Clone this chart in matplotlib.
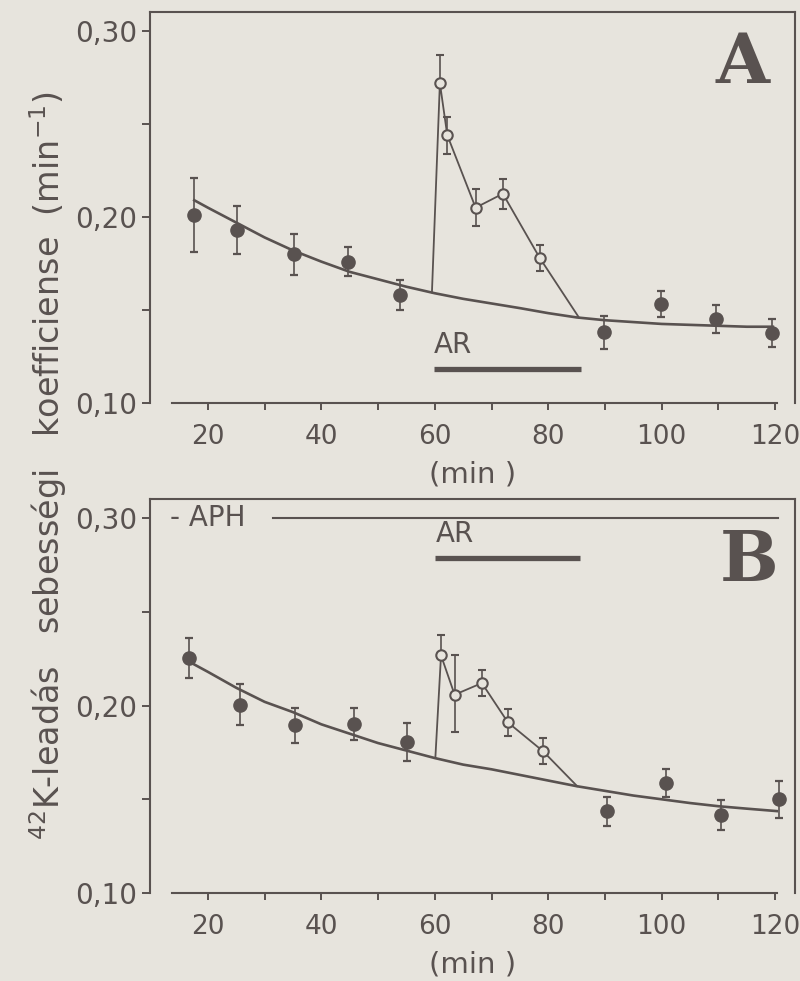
import numpy as np
import matplotlib.pyplot as plt

PAPER = '#e7e4dd'
INK = '#595250'

# --- panel A: control runs (filled) and AR runs (open) ---
t_ctrl_a = [17.6, 25.2, 35.2, 44.7, 53.8, 89.9, 99.9, 109.6, 119.4]
k_ctrl_a = [0.201, 0.193, 0.180, 0.176, 0.158, 0.138, 0.153, 0.145, 0.1375]
sem_ctrl_a = [0.020, 0.013, 0.011, 0.008, 0.008, 0.009, 0.007, 0.0075, 0.0075]

t_ar_a = [60.9, 62.2, 67.2, 72.0, 78.5]
k_ar_a = [0.272, 0.244, 0.205, 0.2125, 0.178]
sem_ar_hi_a = [0.015, 0.010, 0.010, 0.008, 0.007]
sem_ar_lo_a = [0.0, 0.010, 0.010, 0.008, 0.007]
ar_branch_a = [(59.5, 0.1595), (85.4, 0.146)]

fit_t_a = [17.6, 20, 25, 30, 35, 40, 45, 50, 55, 60, 65, 70, 75, 80, 85, 90, 95, 100, 105, 110, 115, 119.6]
fit_k_a = [0.209, 0.205, 0.197, 0.189, 0.182, 0.176, 0.1705, 0.1665, 0.1625, 0.159, 0.156, 0.1535,
           0.151, 0.1483, 0.146, 0.1445, 0.1435, 0.1425, 0.142, 0.1415, 0.141, 0.141]

# --- panel B ---
t_ctrl_b = [16.65, 25.6, 35.4, 45.8, 55.1, 90.3, 100.7, 110.5, 120.7]
k_ctrl_b = [0.2253, 0.2004, 0.1894, 0.1903, 0.1805, 0.1436, 0.1587, 0.1418, 0.150]
sem_ctrl_b = [0.0105, 0.011, 0.0095, 0.0085, 0.010, 0.0078, 0.0073, 0.008, 0.010]

t_ar_b = [61.1, 63.5, 68.3, 72.9, 79.1]
k_ar_b = [0.2268, 0.2058, 0.212, 0.191, 0.1756]
sem_ar_hi_b = [0.011, 0.021, 0.007, 0.007, 0.007]
sem_ar_lo_b = [0.0, 0.020, 0.007, 0.007, 0.007]
ar_branch_b = [(60.1, 0.172), (85.1, 0.157)]

fit_t_b = [16.65, 20, 25, 30, 35, 40, 45, 50, 55, 60, 65, 70, 75, 80, 85, 90, 95, 100, 105, 110, 115, 120.3]
fit_k_b = [0.2235, 0.218, 0.2095, 0.202, 0.1965, 0.190, 0.185, 0.180, 0.176, 0.172, 0.1685, 0.166,
           0.163, 0.160, 0.157, 0.1545, 0.152, 0.150, 0.148, 0.1463, 0.145, 0.1437]

# treatment bars (start, end, y)
ar_bar_a = (59.8, 85.8, 0.1182)
ar_bar_b = (60.1, 85.6, 0.2787)
aph_line = (31.5, 120.5, 0.30)

y_ticks = [0.10, 0.15, 0.20, 0.25, 0.30]
y_ticklabels = ['0,10', '', '0,20', '', '0,30']
x_ticks = list(range(20, 121, 10))
x_ticklabels = [str(v) if v % 20 == 0 else '' for v in x_ticks]

plt.rcParams['font.family'] = 'DejaVu Sans'
plt.rcParams['mathtext.fontset'] = 'dejavusans'


def draw_panel(ax, t_ctrl, k_ctrl, sem_ctrl, t_ar, k_ar, sem_lo, sem_hi, branch, fit_t, fit_k):
    ax.set_facecolor(PAPER)
    ax.set_xlim(9.8, 123.5)
    ax.set_ylim(0.10, 0.3102)

    # fitted decay of the control runs
    ax.plot(fit_t, fit_k, color=INK, lw=1.9, zorder=2)

    # AR branch: leaves the curve, runs through open points, rejoins
    bx = [branch[0][0]] + t_ar + [branch[1][0]]
    by = [branch[0][1]] + k_ar + [branch[1][1]]
    ax.plot(bx, by, color=INK, lw=1.3, zorder=2)

    ax.errorbar(t_ctrl, k_ctrl, yerr=sem_ctrl, fmt='o', ms=9.5, color=INK, mfc=INK, mec=INK,
                ecolor=INK, elinewidth=1.2, capsize=3, capthick=1.6, zorder=3)
    ax.errorbar(t_ar, k_ar, yerr=[sem_lo, sem_hi], fmt='o', ms=7.5, color=INK, mfc=PAPER, mec=INK,
                mew=1.5, ecolor=INK, elinewidth=1.2, capsize=3, capthick=1.6, zorder=3)

    for s in ax.spines.values():
        s.set_color(INK)
        s.set_linewidth(1.5)
    ax.spines['bottom'].set_bounds(13.7, 120.3)

    ax.set_yticks(y_ticks)
    ax.set_yticklabels(y_ticklabels)
    ax.set_xticks(x_ticks)
    ax.set_xticklabels(x_ticklabels)
    ax.tick_params(axis='y', direction='out', length=6, width=1.4, color=INK,
                   labelcolor=INK, labelsize=20, pad=3)
    ax.tick_params(axis='x', direction='out', length=5, width=1.4, color=INK,
                   labelcolor=INK, labelsize=19, pad=10)
    ax.set_xlabel('(min )', color=INK, fontsize=21, labelpad=8)


fig = plt.figure(figsize=(8, 9.81), dpi=100, facecolor=PAPER)
ax_a = fig.add_axes([0.1875, 0.5892, 0.80625, 0.3986])
ax_b = fig.add_axes([0.1875, 0.0897, 0.80625, 0.4016])

draw_panel(ax_a, t_ctrl_a, k_ctrl_a, sem_ctrl_a, t_ar_a, k_ar_a, sem_ar_lo_a, sem_ar_hi_a,
           ar_branch_a, fit_t_a, fit_k_a)
draw_panel(ax_b, t_ctrl_b, k_ctrl_b, sem_ctrl_b, t_ar_b, k_ar_b, sem_ar_lo_b, sem_ar_hi_b,
           ar_branch_b, fit_t_b, fit_k_b)

# AR application bars
for ax, (x0, x1, yb) in ((ax_a, ar_bar_a), (ax_b, ar_bar_b)):
    ax.plot([x0, x1], [yb, yb], color=INK, lw=3.8, solid_capstyle='butt', zorder=2)
    ax.text(x0, yb + 0.0055, 'AR', color=INK, fontsize=20, ha='left', va='bottom')

# APH present throughout panel B
ax_b.text(13.4, aph_line[2], '- APH', color=INK, fontsize=20, ha='left', va='center')
ax_b.plot(aph_line[:2], [aph_line[2]] * 2, color=INK, lw=1.5, zorder=2)

# panel letters
ax_a.text(114.3, 0.2823, 'A', family='DejaVu Serif', weight='bold', fontsize=50,
          color=INK, ha='center', va='center')
ax_b.text(115.4, 0.277, 'B', family='DejaVu Serif', weight='bold', fontsize=50,
          color=INK, ha='center', va='center')

fig.text(0.06, 0.525, '$^{42}$K-leadás   sebességi   koefficiense  (min$^{-1}$)',
         rotation=90, ha='center', va='center', color=INK, fontsize=24)

fig.savefig('out.png', dpi=100, facecolor=PAPER)
